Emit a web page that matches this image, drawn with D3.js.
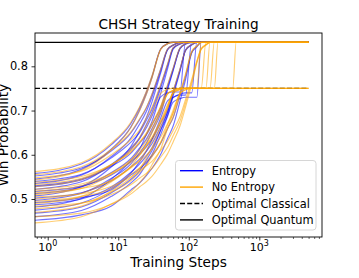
<!DOCTYPE html>
<html>
<head>
<meta charset="utf-8">
<script src="https://cdn.jsdelivr.net/npm/d3@7"></script>
<style>
  html, body { margin: 0; padding: 0; background: #fff; }
  svg { display: block; font-family: "DejaVu Sans", sans-serif; }
</style>
</head>
<body>
<svg width="359" height="278"></svg>
<script>
const Q = 0.854; // optimal quantum win probability
const C = 0.75;  // optimal classical win probability

const STEPS = [0.66, 3, 8, 15, 20, 25, 30, 40, 50, 60, 75, 90, 110, 130, 150, 175, 200, 230, 260, 420, 470, 520, 5000];

const ENTROPY_RUNS = [
  [0.558, 0.579, 0.623, 0.670, 0.706, 0.742, 0.777, 0.839, 0.851, Q,Q,Q,Q,Q,Q,Q,Q,Q,Q,Q,Q,Q,Q],
  [0.552, 0.570, 0.609, 0.649, 0.679, 0.706, 0.736, 0.794, 0.839, 0.848, Q,Q,Q,Q,Q,Q,Q,Q,Q,Q,Q,Q,Q],
  [0.545, 0.567, 0.613, 0.662, 0.700, 0.737, 0.774, 0.839, 0.851, Q,Q,Q,Q,Q,Q,Q,Q,Q,Q,Q,Q,Q,Q],
  [0.540, 0.556, 0.593, 0.628, 0.650, 0.678, 0.703, 0.757, 0.804, 0.841, 0.851, Q,Q,Q,Q,Q,Q,Q,Q,Q,Q,Q,Q],
  [0.535, 0.554, 0.596, 0.637, 0.669, 0.698, 0.730, 0.790, 0.838, 0.848, Q,Q,Q,Q,Q,Q,Q,Q,Q,Q,Q,Q,Q],
  [0.528, 0.543, 0.574, 0.603, 0.626, 0.645, 0.668, 0.707, 0.756, 0.795, 0.841, 0.851, Q,Q,Q,Q,Q,Q,Q,Q,Q,Q,Q],
  [0.522, 0.539, 0.578, 0.615, 0.638, 0.668, 0.695, 0.751, 0.801, 0.841, 0.851, Q,Q,Q,Q,Q,Q,Q,Q,Q,Q,Q,Q],
  [0.517, 0.529, 0.554, 0.584, 0.601, 0.618, 0.635, 0.672, 0.702, 0.743, 0.793, 0.837, 0.849, Q,Q,Q,Q,Q,Q,Q,Q,Q,Q],
  [0.512, 0.527, 0.560, 0.591, 0.615, 0.635, 0.659, 0.700, 0.751, 0.792, 0.840, 0.851, Q,Q,Q,Q,Q,Q,Q,Q,Q,Q,Q],
  [0.507, 0.528, 0.573, 0.618, 0.653, 0.684, 0.719, 0.785, 0.837, 0.847, Q,Q,Q,Q,Q,Q,Q,Q,Q,Q,Q,Q,Q],
  [0.502, 0.514, 0.541, 0.572, 0.590, 0.608, 0.625, 0.664, 0.696, 0.738, 0.791, 0.836, 0.849, Q,Q,Q,Q,Q,Q,Q,Q,Q,Q],
  [0.497, 0.513, 0.547, 0.579, 0.604, 0.626, 0.651, 0.693, 0.747, 0.790, 0.840, 0.850, Q,Q,Q,Q,Q,Q,Q,Q,Q,Q,Q],
  [0.492, 0.503, 0.521, 0.554, 0.568, 0.583, 0.597, 0.626, 0.659, 0.684, 0.735, 0.778, 0.832, 0.845, Q,Q,Q,Q,Q,Q,Q,Q,Q],
  [0.487, 0.500, 0.527, 0.560, 0.579, 0.597, 0.615, 0.656, 0.689, 0.733, 0.788, 0.836, 0.848, Q,Q,Q,Q,Q,Q,Q,Q,Q,Q],
  [0.482, 0.501, 0.545, 0.586, 0.612, 0.646, 0.675, 0.739, 0.794, 0.839, 0.850, Q,Q,Q,Q,Q,Q,Q,Q,Q,Q,Q,Q],
  [0.475, 0.491, 0.524, 0.558, 0.584, 0.608, 0.634, 0.683, 0.722, 0.730, 0.735, 0.735, Q,Q,Q,Q,Q,Q,Q,Q,Q,Q,Q],
  [0.468, 0.482, 0.514, 0.544, 0.563, 0.588, 0.609, 0.656, 0.696, 0.729, 0.737, 0.740, 0.740, Q,Q,Q,Q,Q,Q,Q,Q,Q,Q],
  [0.460, 0.474, 0.506, 0.536, 0.555, 0.579, 0.600, 0.646, 0.687, 0.719, 0.727, 0.730, 0.730, 0.730, Q,Q,Q,Q,Q,Q,Q,Q,Q],
  [0.530, 0.545, 0.577, 0.611, 0.636, 0.661, 0.687, 0.731, 0.740, 0.742, 0.742, Q,Q,Q,Q,Q,Q,Q,Q,Q,Q,Q,Q],
  [0.452, 0.464, 0.484, 0.520, 0.536, 0.553, 0.569, 0.601, 0.637, 0.665, 0.721, 0.770, 0.830, 0.844, Q,Q,Q,Q,Q,Q,Q,Q,Q],
];

const NO_ENTROPY_RUNS = [
  [0.562, 0.582, 0.626, 0.673, 0.708, 0.743, 0.778, 0.839, 0.851, Q,Q,Q,Q,Q,Q,Q,Q,Q,Q,Q,Q,Q,Q],
  [0.555, 0.573, 0.612, 0.651, 0.681, 0.707, 0.737, 0.794, 0.839, 0.848, Q,Q,Q,Q,Q,Q,Q,Q,Q,Q,Q,Q,Q],
  [0.548, 0.563, 0.600, 0.634, 0.655, 0.683, 0.707, 0.759, 0.805, 0.842, 0.851, Q,Q,Q,Q,Q,Q,Q,Q,Q,Q,Q,Q],
  [0.543, 0.565, 0.611, 0.661, 0.699, 0.736, 0.773, 0.838, 0.851, Q,Q,Q,Q,Q,Q,Q,Q,Q,Q,Q,Q,Q,Q],
  [0.538, 0.551, 0.578, 0.606, 0.627, 0.646, 0.667, 0.708, 0.739, 0.746, C,C,C,C,C,C,C,C,C,C,C,C,C],
  [0.533, 0.547, 0.578, 0.607, 0.629, 0.649, 0.671, 0.710, 0.758, 0.796, 0.841, 0.851, Q,Q,Q,Q,Q,Q,Q,Q,Q,Q,Q],
  [0.528, 0.544, 0.577, 0.612, 0.639, 0.666, 0.692, 0.739, 0.748, C,C,C,C,C,C, Q,Q,Q,Q,Q,Q,Q,Q],
  [0.522, 0.534, 0.559, 0.588, 0.605, 0.622, 0.638, 0.675, 0.705, 0.744, 0.794, 0.837, 0.849, Q,Q,Q,Q,Q,Q,Q,Q,Q,Q],
  [0.518, 0.530, 0.557, 0.583, 0.599, 0.620, 0.639, 0.678, 0.713, 0.741, 0.748, C,C,C,C,C,C,C,C,C,C,C,C],
  [0.514, 0.524, 0.541, 0.572, 0.585, 0.599, 0.613, 0.640, 0.670, 0.694, 0.742, 0.783, 0.834, 0.846, Q,Q,Q,Q,Q,Q,Q,Q,Q],
  [0.510, 0.524, 0.556, 0.587, 0.611, 0.632, 0.656, 0.702, 0.738, 0.745, C,C,C,C,C,C, Q,Q,Q,Q,Q,Q,Q],
  [0.505, 0.512, 0.529, 0.550, 0.564, 0.575, 0.585, 0.610, 0.631, 0.655, 0.686, 0.725, 0.770, 0.812, 0.840, 0.849, Q,Q,Q,Q,Q,Q,Q],
  [0.500, 0.513, 0.543, 0.570, 0.588, 0.610, 0.630, 0.673, 0.710, 0.740, 0.748, C,C,C,C,C,C, Q,Q,Q,Q,Q,Q],
  [0.495, 0.506, 0.524, 0.556, 0.570, 0.585, 0.599, 0.628, 0.660, 0.685, 0.736, 0.779, 0.832, 0.845, Q,Q,Q,Q,Q,Q,Q,Q,Q],
  [0.490, 0.506, 0.539, 0.573, 0.599, 0.623, 0.649, 0.698, 0.737, 0.745, C,C,C,C,C,C,C,C,C,C, Q,Q,Q],
  [0.484, 0.491, 0.510, 0.532, 0.547, 0.558, 0.569, 0.595, 0.617, 0.643, 0.676, 0.717, 0.765, 0.810, 0.839, 0.848, Q,Q,Q,Q,Q,Q,Q],
  [0.478, 0.490, 0.516, 0.541, 0.560, 0.576, 0.595, 0.628, 0.668, 0.701, 0.739, 0.747, C,C,C,C,C,C,C,C,C,C,C],
  [0.470, 0.484, 0.518, 0.548, 0.568, 0.593, 0.616, 0.663, 0.705, 0.739, 0.747, C,C,C, Q,Q,Q,Q,Q,Q,Q,Q,Q],
  [0.460, 0.468, 0.488, 0.511, 0.527, 0.539, 0.551, 0.578, 0.602, 0.629, 0.665, 0.708, 0.759, 0.807, 0.838, 0.848, Q,Q,Q,Q,Q,Q,Q],
  [0.446, 0.460, 0.489, 0.516, 0.537, 0.555, 0.577, 0.613, 0.659, 0.695, 0.738, 0.747, C,C,C,C,C,C, Q,Q,Q,Q,Q],
];

const Y_TICKS = [0.5, 0.6, 0.7, 0.8];
const X_TICKS = [1, 10, 100, 1000];
const LEGEND_LABELS = ["Entropy", "No Entropy", "Optimal Classical", "Optimal Quantum"];

const LEFT = 35;
const RIGHT = 322;
const TOP = 33;
const BOTTOM = 237;

const BLUE = "#0000ff";
const ORANGE = "#ffa500";

const svg = d3.select("svg");

const xScale = d3.scaleLog().domain([0.66, 7745]).range([LEFT, RIGHT]);
const yScale = d3.scaleLinear().domain([0.4141, 0.8753]).range([BOTTOM, TOP]);

svg.append("clipPath").attr("id", "plot-clip")
  .append("rect")
  .attr("x", LEFT).attr("y", TOP)
  .attr("width", RIGHT - LEFT).attr("height", BOTTOM - TOP);

const plot = svg.append("g").attr("clip-path", "url(#plot-clip)");

//reference lines
plot.append("line")
  .attr("x1", xScale(0.66)).attr("x2", xScale(5000))
  .attr("y1", yScale(Q)).attr("y2", yScale(Q))
  .attr("stroke", "#000").attr("stroke-width", 1.3);

plot.append("line")
  .attr("x1", xScale(0.66)).attr("x2", xScale(5000))
  .attr("y1", yScale(C)).attr("y2", yScale(C))
  .attr("stroke", "#000").attr("stroke-width", 1.3)
  .attr("stroke-dasharray", "5,2.2");

const line = d3.line()
  .x((d) => xScale(d[0]))
  .y((d) => yScale(d[1]))
  .curve(d3.curveMonotoneX);

const drawRuns = (runs, color) => {
  plot.append("g")
    .selectAll("path")
    .data(runs)
    .enter()
    .append("path")
    .attr("d", (run) => line(d3.zip(STEPS, run)))
    .attr("fill", "none")
    .attr("stroke", color)
    .attr("stroke-opacity", 0.55)
    .attr("stroke-width", 1.15);
};
drawRuns(ENTROPY_RUNS, BLUE);
drawRuns(NO_ENTROPY_RUNS, ORANGE);

//y axis
const yAxis = svg.append("g")
  .attr("transform", `translate(${LEFT}, 0)`)
  .call(d3.axisLeft(yScale).tickValues(Y_TICKS).tickSize(3.5).tickPadding(3.5).tickFormat(d3.format(".1f")));
yAxis.select(".domain").remove();
yAxis.selectAll("text").attr("font-size", 11.4).attr("font-family", "DejaVu Sans").attr("fill", "#000");
yAxis.selectAll("line").attr("stroke", "#000").attr("stroke-width", 0.8);

//x axis, major and minor log ticks
const minorTicks = xScale.ticks().filter((t) => X_TICKS.indexOf(t) === -1);
const xMinor = svg.append("g")
  .attr("transform", `translate(0, ${BOTTOM})`)
  .call(d3.axisBottom(xScale).tickValues(minorTicks).tickSize(2).tickFormat(""));
xMinor.select(".domain").remove();
xMinor.selectAll("line").attr("stroke", "#000").attr("stroke-width", 0.6);

const xAxis = svg.append("g")
  .attr("transform", `translate(0, ${BOTTOM})`)
  .call(d3.axisBottom(xScale).tickValues(X_TICKS).tickSize(3.5).tickFormat(""));
xAxis.select(".domain").remove();
xAxis.selectAll("line").attr("stroke", "#000").attr("stroke-width", 0.8);

const xLabels = svg.append("g")
  .selectAll("text")
  .data(X_TICKS)
  .enter()
  .append("text")
  .attr("x", (t) => xScale(t))
  .attr("y", 251)
  .attr("text-anchor", "middle")
  .attr("font-size", 11)
  .attr("fill", "#000");
xLabels.append("tspan").text("10");
xLabels.append("tspan")
  .attr("font-size", 8)
  .attr("dy", -5)
  .text((t) => Math.round(Math.log10(t)));

//frame
svg.append("rect")
  .attr("x", LEFT).attr("y", TOP)
  .attr("width", RIGHT - LEFT).attr("height", BOTTOM - TOP)
  .attr("fill", "none").attr("stroke", "#000").attr("stroke-width", 0.9);

//titles
svg.append("text")
  .attr("x", (LEFT + RIGHT) / 2).attr("y", 29)
  .attr("text-anchor", "middle").attr("font-size", 13.7)
  .text("CHSH Strategy Training");

svg.append("text")
  .attr("x", (LEFT + RIGHT) / 2).attr("y", 266.5)
  .attr("text-anchor", "middle").attr("font-size", 13.7)
  .text("Training Steps");

svg.append("text")
  .attr("transform", `translate(8, ${(TOP + BOTTOM) / 2}) rotate(-90)`)
  .attr("text-anchor", "middle").attr("font-size", 13.7)
  .text("Win Probability");

//legend
const legend = svg.append("g");
legend.append("rect")
  .attr("x", 175.5).attr("y", 160.5)
  .attr("width", 140.5).attr("height", 69.5)
  .attr("rx", 3)
  .attr("fill", "#fff").attr("fill-opacity", 0.8)
  .attr("stroke", "#d6d6d6").attr("stroke-width", 1);

const legendStyles = [
  { color: BLUE, dash: null },
  { color: ORANGE, dash: null },
  { color: "#000", dash: "5,2.2" },
  { color: "#000", dash: null },
];

const rows = legend.selectAll(".row")
  .data(LEGEND_LABELS)
  .enter()
  .append("g")
  .classed("row", true)
  .attr("transform", (d, i) => `translate(0, ${170.7 + i * 16.4})`);

rows.append("line")
  .attr("x1", 180).attr("x2", 203)
  .attr("stroke", (d, i) => legendStyles[i].color)
  .attr("stroke-width", 1.4)
  .attr("stroke-dasharray", (d, i) => legendStyles[i].dash);

rows.append("text")
  .attr("x", 211.7)
  .attr("dy", "0.36em")
  .attr("font-size", 11.4)
  .text((d) => d);
</script>
</body>
</html>
